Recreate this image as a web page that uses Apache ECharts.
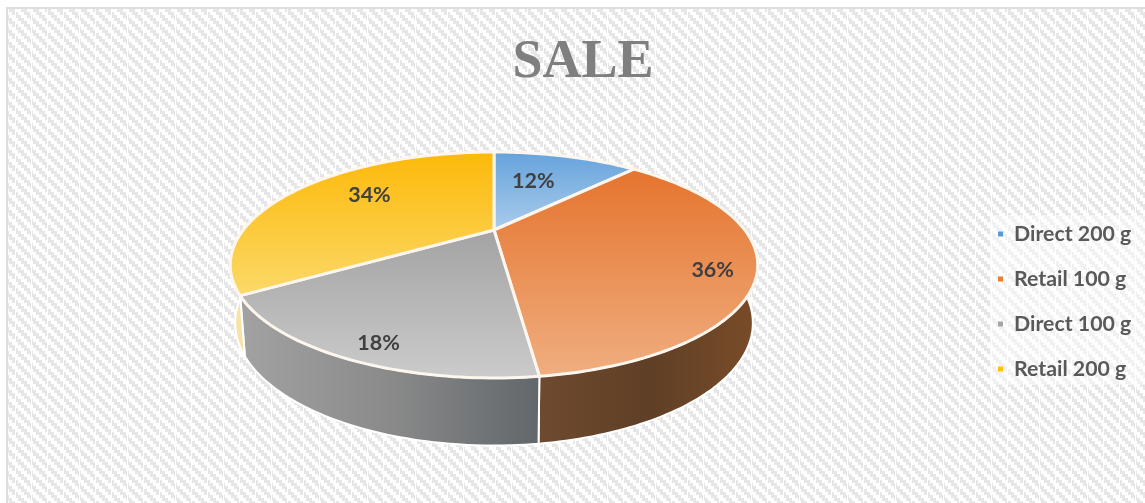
<!DOCTYPE html>
<html>
<head>
<meta charset="utf-8">
<style>
  html, body { margin: 0; padding: 0; background: #fff; }
  #chart { width: 1145px; height: 503px; }
</style>
<script src="https://cdn.jsdelivr.net/npm/echarts@6/dist/echarts.min.js"></script>
</head>
<body>
<div id="chart"></div>
<script>
const categories = ["Direct 200 g", "Retail 100 g", "Direct 100 g", "Retail 200 g"];
const saleShare = [12, 36, 18, 34];
const sliceColors = ["#5b9bd5", "#ed7d31", "#a5a5a5", "#ffc000"];

const topStops = [
  ["#66a3dc", "#a9cceb"],
  ["#e5742e", "#f0ae80"],
  ["#a3a3a3", "#cbcbcb"],
  ["#fdb90a", "#fbd968"],
];
const wallStops = [
  ["#3f6f9c", "#3f6f9c"],
  ["#6e4a2f", "#5f3f26", "#7a4c28"],
  ["#a2a2a2", "#8a8a8a", "#62676b"],
  ["#f7e2a8", "#f7e2a8"],
];

// label anchor: fraction of the radius, then a nudge in px
const labelRadius = [0.6, 0.85, 0.9, 0.82];
const labelShift = [[-8, 0], [-2, 11], [13, 2], [36, 1]];

// perspective of the disc, fitted by eye against the picture
const view = { cx: 494, depth: 3.23, topY: 230, bottomY: 285, topSpreadX: 810, botSpreadX: 795, topSpreadY: 330, botSpreadY: 358 };

function project(theta, r, bottom) {
  const x = r * Math.sin(theta);
  const z = r * Math.cos(theta);
  const w = view.depth + z;
  return [
    view.cx + (bottom ? view.botSpreadX : view.topSpreadX) * x / w,
    (bottom ? view.bottomY : view.topY) - (bottom ? view.botSpreadY : view.topSpreadY) * z / w,
  ];
}

function arcPoints(from, to, bottom) {
  const steps = Math.max(2, Math.ceil((to - from) / 0.02));
  const pts = [];
  for (let i = 0; i <= steps; i++) {
    pts.push(project(from + (to - from) * i / steps, 1, bottom));
  }
  return pts;
}

function evenStops(colors) {
  return colors.map((color, i) => ({ offset: i / (colors.length - 1), color }));
}

function makeHatch() {
  const tile = document.createElement("canvas");
  tile.width = 48;
  tile.height = 48;
  const ctx = tile.getContext("2d");
  ctx.fillStyle = "#ffffff";
  ctx.fillRect(0, 0, 48, 48);
  ctx.fillStyle = "#e6e6e6";
  for (let y = 0; y < 48; y += 3) {
    for (let x = y % 12 - 12; x < 48; x += 12) {
      ctx.fillRect(x, y, 6, 3);
    }
  }
  ctx.fillStyle = "#ffffff";
  for (let x = 15; x < 48; x += 16) {
    ctx.fillRect(x, 0, 1, 48);
  }
  return tile;
}

function renderSlice(index) {
  const before = saleShare.slice(0, index).reduce((a, b) => a + b, 0);
  const total = saleShare.reduce((a, b) => a + b, 0);
  const start = before / total * Math.PI * 2;
  const end = (before + saleShare[index]) / total * Math.PI * 2;
  const mid = (start + end) / 2;

  return function (params, api) {
    const children = [];
    const wallFrom = Math.max(start, Math.PI * 0.5);
    const wallTo = Math.min(end, Math.PI * 1.5);
    if (wallTo > wallFrom) {
      const topEdge = arcPoints(wallFrom, wallTo, false);
      const botEdge = arcPoints(wallFrom, wallTo, true).reverse();
      const xs = topEdge.concat(botEdge).map((p) => p[0]);
      children.push({
        type: "polygon",
        z2: 1,
        shape: { points: topEdge.concat(botEdge) },
        style: {
          fill: new echarts.graphic.LinearGradient(
            Math.min(...xs), 0, Math.max(...xs), 0,
            evenStops(wallStops[index]),
            true,
          ),
          stroke: "#ffffff",
          lineWidth: 2,
        },
      });
    }
    const outline = [project(0, 0, false)].concat(arcPoints(start, end, false));
    const ys = outline.map((p) => p[1]);
    children.push({
      type: "polygon",
      z2: 10,
      shape: { points: outline },
      style: {
        fill: new echarts.graphic.LinearGradient(
          0, Math.min(...ys), 0, Math.max(...ys),
          evenStops(topStops[index]),
          true,
        ),
        stroke: "#fdf6ee",
        lineWidth: 3,
        lineJoin: "round",
      },
    });
    const anchor = project(mid, labelRadius[index], false);
    children.push({
      type: "text",
      z2: 20,
      style: {
        x: anchor[0] + labelShift[index][0],
        y: anchor[1] + labelShift[index][1],
        text: api.value(0) + "%",
        font: "bold 21.5px Lato, sans-serif",
        fill: "#404040",
        align: "center",
        verticalAlign: "middle",
      },
    });
    return { type: "group", children };
  };
}

const chart = echarts.init(document.getElementById("chart"), null, { renderer: "canvas" });
chart.setOption({
  animation: false,
  backgroundColor: "#ffffff",
  title: {
    text: "SALE",
    left: 578,
    top: 31,
    textAlign: "center",
    textStyle: { fontFamily: "Liberation Serif", fontWeight: "bold", fontSize: 54, color: "#7f7f7f" },
  },
  legend: {
    orient: "vertical",
    left: 998,
    top: 222,
    icon: "rect",
    itemWidth: 5,
    itemHeight: 5,
    itemGap: 21,
    padding: 0,
    data: categories,
    selectedMode: false,
    textStyle: { fontFamily: "Lato", fontWeight: "bold", fontSize: 21.3, color: "#595959", lineHeight: 24, padding: [0, 0, 0, 6] },
  },
  graphic: [
    {
      type: "rect",
      z: -1,
      shape: { x: 7, y: 8, width: 1145, height: 503 },
      style: { fill: { image: makeHatch(), repeat: "repeat" }, stroke: "#dedede", lineWidth: 2 },
    },
    {
      type: "rect",
      z: -1,
      shape: { x: 990, y: 215, width: 155, height: 170 },
      style: { fill: "rgba(255,255,255,0.45)" },
    },
  ],
  series: categories.map((name, i) => ({
    type: "custom",
    name,
    coordinateSystem: "none",
    itemStyle: { color: sliceColors[i] },
    data: [[saleShare[i]]],
    renderItem: renderSlice(i),
  })),
});
</script>
</body>
</html>
